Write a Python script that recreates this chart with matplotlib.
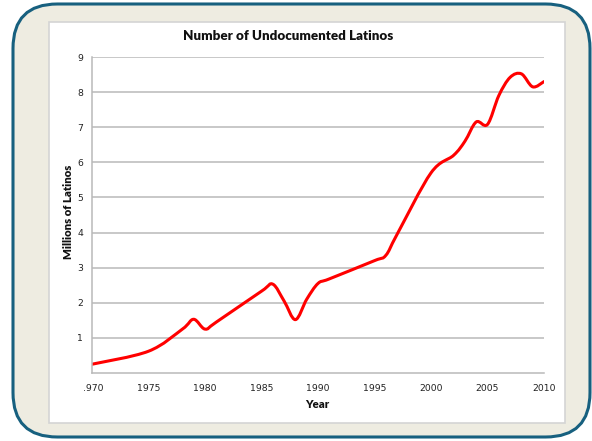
import matplotlib
matplotlib.use("Agg")
import matplotlib.pyplot as plt
from matplotlib.patches import FancyBboxPatch, Rectangle, PathPatch
from matplotlib.path import Path

# datos
years = [1970, 1975, 1978, 1979, 1980, 1981, 1985, 1986, 1987, 1988, 1989, 1990,
         1991, 1995, 1996, 1997, 2000, 2002, 2003, 2004, 2005, 2006, 2007, 2008,
         2009, 2010]
millions = [0.25, 0.62, 1.25, 1.53, 1.25, 1.45, 2.33, 2.53, 2.05, 1.52, 2.1, 2.55,
            2.68, 3.2, 3.35, 3.95, 5.7, 6.2, 6.6, 7.15, 7.08, 7.9, 8.42, 8.52,
            8.15, 8.3]
xticks = [1970, 1975, 1980, 1985, 1990, 1995, 2000, 2005, 2010]
yticks = [1, 2, 3, 4, 5, 6, 7, 8, 9]

W, H = 592, 441
fig = plt.figure(figsize=(W / 100, H / 100), dpi=100)
fig.patch.set_facecolor("white")

def fx(px):
    return px / W

def fy(py):
    return 1 - py / H

# marco exterior redondeado
frame = FancyBboxPatch((fx(13), fy(437)), fx(590) - fx(13), fy(4) - fy(437),
                       boxstyle="round,pad=0,rounding_size=0.075",
                       transform=fig.transFigure, facecolor="#eeece1",
                       edgecolor="#17607f", linewidth=2.2, mutation_aspect=W / H,
                       zorder=-10)
fig.patches.append(frame)
# panel blanco
panel = Rectangle((fx(49), fy(423)), fx(565) - fx(49), fy(22) - fy(423),
                  transform=fig.transFigure, facecolor="white",
                  edgecolor="#d4d4d4", linewidth=1.2, zorder=-9)
fig.patches.append(panel)

ax = fig.add_axes([fx(92), fy(373), fx(544) - fx(92), fy(57) - fy(373)])
ax.set_zorder(5)
ax.set_facecolor("none")
ax.set_xlim(1970, 2010)
ax.set_ylim(0, 9)
ax.set_xticks(xticks)
ax.set_yticks(yticks)
ax.set_yticklabels([str(v) for v in yticks])
ax.set_xticklabels([str(v) for v in xticks])
ax.grid(axis="y", color="#b9b9b9", linewidth=1.1)
ax.set_axisbelow(True)
for s in ["top", "right"]:
    ax.spines[s].set_visible(False)
for s in ["left", "bottom"]:
    ax.spines[s].set_color("#b9b9b9")
    ax.spines[s].set_linewidth(1.1)
ax.tick_params(axis="both", length=0, labelsize=6.7, colors="#222222")
ax.tick_params(axis="y", pad=6.3)
ax.tick_params(axis="x", pad=7.8)
for lbl in ax.get_xticklabels() + ax.get_yticklabels():
    lbl.set_family("DejaVu Sans")

# linea suavizada (bezier tipo Excel)
pts = list(zip(years, millions))
verts = [pts[0]]
codes = [Path.MOVETO]
n = len(pts)
for i in range(n - 1):
    p0 = pts[i - 1] if i > 0 else pts[i]
    p1 = pts[i]
    p2 = pts[i + 1]
    p3 = pts[i + 2] if i + 2 < n else pts[i + 1]
    c1 = (p1[0] + (p2[0] - p0[0]) / 6, p1[1] + (p2[1] - p0[1]) / 6)
    c2 = (p2[0] - (p3[0] - p1[0]) / 6, p2[1] - (p3[1] - p1[1]) / 6)
    verts += [c1, c2, p2]
    codes += [Path.CURVE4] * 3
ax.add_patch(PathPatch(Path(verts, codes), facecolor="none", edgecolor="#ff0000",
                       linewidth=2.2, capstyle="round", joinstyle="round"))

fig.text(fx(288), fy(36), "Number of Undocumented Latinos", ha="center",
         va="center", fontsize=9.6, fontweight="heavy", family="Lato", color="#111111")
fig.text(fx(68), fy(212), "Millions of Latinos", ha="center", va="center",
         rotation=90, fontsize=8.2, fontweight="heavy", family="Lato", color="#111111")
fig.text(fx(317), fy(405), "Year", ha="center", va="center",
         fontsize=8.2, fontweight="heavy", family="Lato", color="#111111")

# el "1" de 1970 queda tapado en el original
cover = Rectangle((fx(76), fy(394)), fx(84) - fx(76), fy(378) - fy(394),
                  transform=fig.transFigure, facecolor="white", edgecolor="none",
                  zorder=20)
fig.add_artist(cover)

fig.savefig("out.png", dpi=100)
